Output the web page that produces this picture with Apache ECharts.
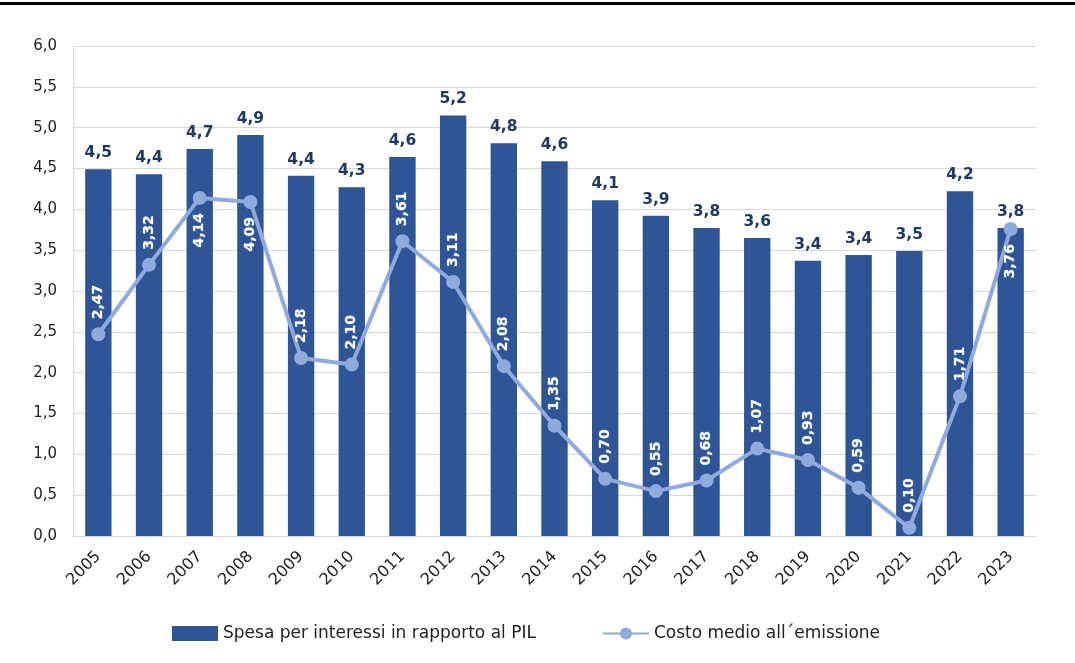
<!DOCTYPE html>
<html>
<head>
<meta charset="utf-8">
<script src="https://cdn.jsdelivr.net/npm/echarts@6/dist/echarts.min.js"></script>
<style>
  html, body { margin: 0; padding: 0; background: #fff; }
  #chart { width: 1075px; height: 663px; }
</style>
</head>
<body>
<div id="chart"></div>
<script>
// anni
var years = ['2005', '2006', '2007', '2008', '2009', '2010', '2011', '2012', '2013', '2014',
    '2015', '2016', '2017', '2018', '2019', '2020', '2021', '2022', '2023'];
// spesa per interessi / PIL (altezze)
var spesaPil = [4.49, 4.43, 4.74, 4.91, 4.41, 4.27, 4.64, 5.15, 4.81, 4.59,
    4.11, 3.92, 3.77, 3.65, 3.37, 3.44, 3.49, 4.22, 3.77];
// costo medio all'emissione
var costoMedio = [2.47, 3.32, 4.14, 4.09, 2.18, 2.10, 3.61, 3.11, 2.08, 1.35,
    0.70, 0.55, 0.68, 1.07, 0.93, 0.59, 0.10, 1.71, 3.76];
// punti con etichetta sotto il marker
var labelSotto = ['2007', '2008', '2023'];

var fontFam = '"DejaVu Sans", Verdana, sans-serif';

function virgola(v, d) {
    return v.toFixed(d).replace('.', ',');
}

var chart = echarts.init(document.getElementById('chart'));

var lineData = costoMedio.map(function (v, i) {
    var below = labelSotto.indexOf(years[i]) >= 0;
    return {
        value: v,
        label: below ? { position: 'bottom', align: 'right' } : { position: 'top', align: 'left' }
    };
});

var option = {
    animation: false,
    textStyle: { fontFamily: fontFam },
    graphic: [{
        type: 'rect',
        shape: { x: 0, y: 2, width: 1075, height: 3 },
        style: { fill: '#000' }
    }],
    grid: { left: 73, right: 39, top: 46, bottom: 127 },
    legend: {
        top: 620,
        left: 167,
        itemGap: 66,
        textStyle: { color: '#222', fontSize: 17, fontFamily: fontFam },
        data: [
            { name: 'Spesa per interessi in rapporto al PIL', icon: 'rect', itemStyle: { color: '#2f5597' } },
            { name: 'Costo medio all´emissione' }
        ],
        itemWidth: 46,
        itemHeight: 15
    },
    xAxis: {
        type: 'category',
        data: years,
        axisTick: { show: false },
        axisLine: { lineStyle: { color: '#d9d9d9', width: 1 } },
        axisLabel: { rotate: 45, color: '#222', fontSize: 16, margin: 18, interval: 0 }
    },
    yAxis: {
        type: 'value',
        min: 0,
        max: 6,
        interval: 0.5,
        axisLine: { show: true, lineStyle: { color: '#d9d9d9' } },
        axisTick: { show: false },
        splitLine: { lineStyle: { color: '#d9d9d9' } },
        axisLabel: {
            color: '#222', fontSize: 15, margin: 16,
            formatter: function (v) { return virgola(v, 1); }
        }
    },
    series: [{
        name: 'Spesa per interessi in rapporto al PIL',
        type: 'bar',
        data: spesaPil,
        barWidth: '52%',
        itemStyle: { color: '#2f5597' },
        label: {
            show: true,
            position: 'top',
            distance: 8,
            color: '#1f3864',
            fontWeight: 'bold',
            fontSize: 15.5,
            formatter: function (p) { return virgola(p.value, 1); }
        }
    }, {
        name: 'Costo medio all´emissione',
        type: 'line',
        data: lineData,
        symbol: 'circle',
        symbolSize: 14,
        lineStyle: { color: '#8faadc', width: 4 },
        itemStyle: { color: '#8faadc' },
        label: {
            show: true,
            rotate: 90,
            distance: 8,
            verticalAlign: 'middle',
            color: '#fff',
            fontWeight: 'bold',
            fontSize: 14,
            textBorderColor: '#5b7fc0',
            textBorderWidth: 1,
            formatter: function (p) { return virgola(p.value, 2); }
        },
        z: 3
    }]
};

chart.setOption(option);
</script>
</body>
</html>
